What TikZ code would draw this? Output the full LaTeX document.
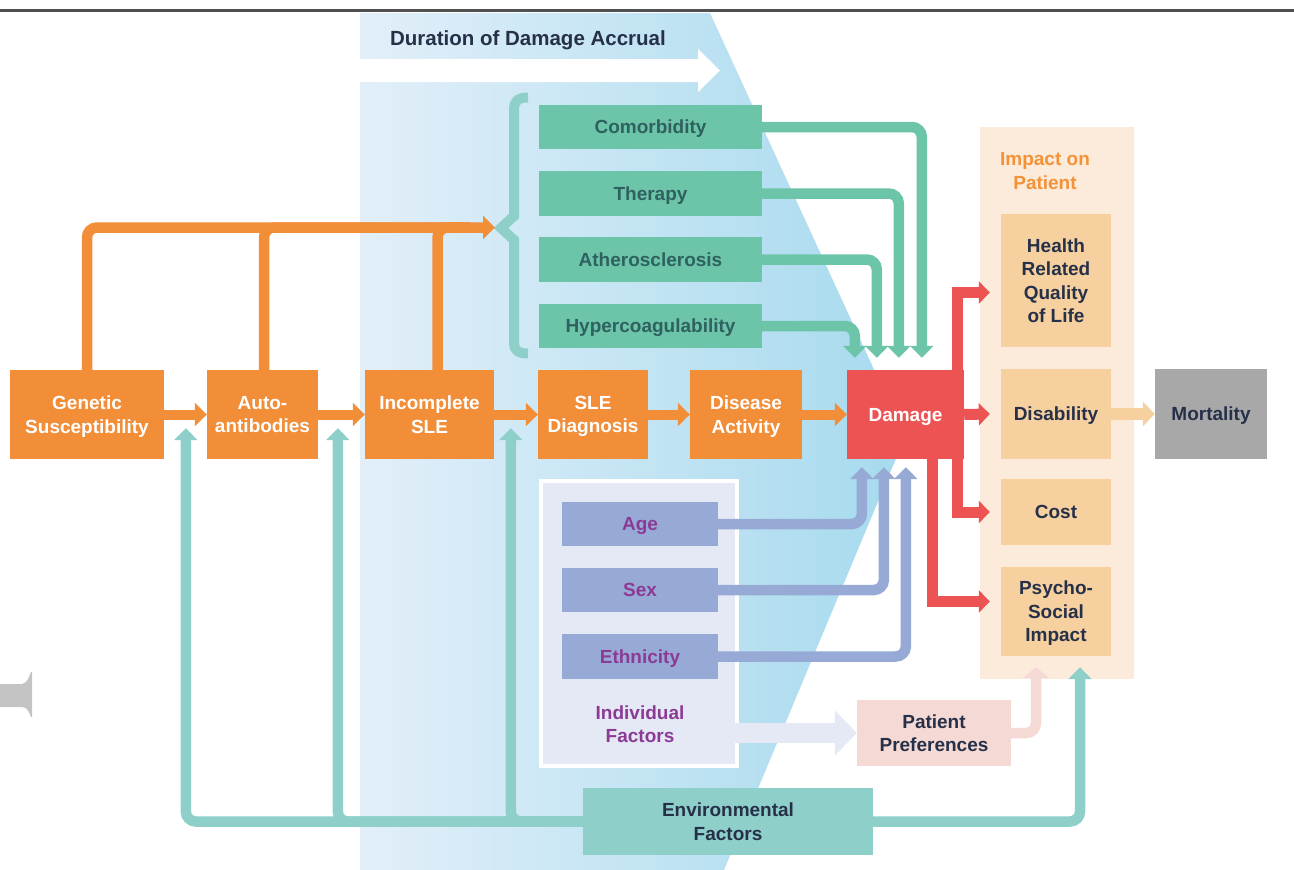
\documentclass[tikz,border=0pt]{standalone}
\usepackage{fontspec}
\setmainfont{Liberation Sans}
\usetikzlibrary{arrows.meta,calc}
\definecolor{cOr}{HTML}{F28D38}
\definecolor{cRed}{HTML}{EE5353}
\definecolor{cGr}{HTML}{6CC5A8}
\definecolor{cGrTxt}{HTML}{2E615F}
\definecolor{cTeal}{HTML}{8ECFC9}
\definecolor{cLav}{HTML}{97AAD6}
\definecolor{cPur}{HTML}{8B3B96}
\definecolor{cIndBg}{HTML}{E4E9F5}
\definecolor{cPink}{HTML}{F5D9D4}
\definecolor{cPeachBg}{HTML}{FCEADA}
\definecolor{cPeach}{HTML}{F6D09F}
\definecolor{cDark}{HTML}{263149}
\definecolor{cGray}{HTML}{A8A8A8}
\definecolor{cOrLbl}{HTML}{F39237}
\definecolor{bgL}{HTML}{E2EFF9}
\definecolor{bgR}{HTML}{A6DAEE}
\definecolor{cLine}{HTML}{505050}
\definecolor{cArt}{HTML}{C4C4C4}
\tikzset{
  box/.style={rectangle, inner sep=0pt, align=center, text depth=0pt, font=\bfseries\fontsize{19}{23.5}\selectfont},
  obox/.style={box, fill=cOr, text=white},
  gbox/.style={box, fill=cGr, text=cGrTxt},
  lbox/.style={box, fill=cLav, text=cPur},
  pbox/.style={box, fill=cPeach, text=cDark},
  conn/.style={line width=10.5pt, rounded corners=10pt},
  oarr/.style={conn, draw=cOr, -{Triangle[length=12pt,width=23pt]}},
  oline/.style={conn, draw=cOr},
  garr/.style={conn, draw=cGr, -{Triangle[length=12pt,width=23pt]}},
  larr/.style={conn, draw=cLav, -{Triangle[length=12pt,width=23pt]}},
  tarr/.style={conn, draw=cTeal, -{Triangle[length=12pt,width=23pt]}},
  rarr/.style={line width=11pt, draw=cRed, -{Triangle[length=11pt,width=22pt]}},
  parr/.style={conn, draw=cPink, -{Triangle[length=11pt,width=26pt]}},
}
\begin{document}
\begin{tikzpicture}[x=1pt,y=-1pt]
\useasboundingbox (0,0) rectangle (1294,870);
% background blue region
\shade[left color=bgL, right color=bgR] (360,13) -- (710,13) -- (905,437) -- (724,870) -- (360,870) -- cycle;
\fill[white] (360,59) -- (698,59) -- (698,49) -- (720,70.5) -- (698,92) -- (698,82) -- (360,82) -- cycle;
\draw[cLine, line width=3pt] (0,10) -- (1294,10);
% left artifact
\fill[cArt] (0,684) -- (22,684) .. controls (28,683) and (29,676) .. (31,672) -- (32,672) -- (32,717) -- (31,717) .. controls (29,713) and (28,707) .. (22,707) -- (0,707) -- cycle;
\node[font=\bfseries\fontsize{20.5}{24}\selectfont, text=cDark, text depth=0pt, inner sep=0pt] (title) at (528,38) {Duration of Damage Accrual};
% group backgrounds
\node[rectangle, fill=cPeachBg, minimum width=154pt, minimum height=552pt, inner sep=0pt] (impbg) at (1057,403) {};
\node[box, text=cOrLbl] (implbl) at (1045,171) {Impact on\\Patient};
\node[rectangle, fill=cIndBg, draw=white, line width=4pt, minimum width=196pt, minimum height=285pt, inner sep=0pt] (indbox) at (639,623.5) {};
% orange chain
\node[obox, minimum width=154pt, minimum height=89pt] (gen) at (87,414.5) {Genetic\\Susceptibility};
\node[obox, minimum width=111pt, minimum height=89pt] (auto) at (262.5,414.5) {Auto-\\antibodies};
\node[obox, minimum width=129pt, minimum height=89pt] (inc) at (429.5,414.5) {Incomplete\\SLE};
\node[obox, minimum width=110pt, minimum height=89pt] (sled) at (593,414.5) {SLE\\Diagnosis};
\node[obox, minimum width=112pt, minimum height=89pt] (dact) at (746,414.5) {Disease\\Activity};
\node[box, fill=cRed, text=white, minimum width=117pt, minimum height=89pt] (dmg) at (905.5,414.5) {Damage};
% green factors
\node[gbox, minimum width=223pt, minimum height=44pt] (com) at (650.5,127) {Comorbidity};
\node[gbox, minimum width=223pt, minimum height=45pt] (ther) at (650.5,193.5) {Therapy};
\node[gbox, minimum width=223pt, minimum height=45pt] (ath) at (650.5,259.5) {Atherosclerosis};
\node[gbox, minimum width=223pt, minimum height=44pt] (hyp) at (650.5,326) {Hypercoagulability};
% individual factors
\node[lbox, minimum width=156pt, minimum height=44pt] (age) at (640,524) {Age};
\node[lbox, minimum width=156pt, minimum height=44pt] (sex) at (640,590) {Sex};
\node[lbox, minimum width=156pt, minimum height=45pt] (eth) at (640,656.5) {Ethnicity};
\node[box, text=cPur] (indlbl) at (640,724) {Individual\\Factors};
% impact boxes
\node[pbox, minimum width=110pt, minimum height=133pt] (hrq) at (1056,280.5) {Health\\Related\\Quality\\of Life};
\node[pbox, minimum width=110pt, minimum height=90pt] (dis) at (1056,414) {Disability};
\node[pbox, minimum width=110pt, minimum height=66pt] (cost) at (1056,512) {Cost};
\node[pbox, minimum width=110pt, minimum height=89pt] (psy) at (1056,611.5) {Psycho-\\Social\\Impact};
\node[box, fill=cGray, text=cDark, minimum width=112pt, minimum height=90pt] (mort) at (1211,414) {Mortality};
\node[box, fill=cPink, text=cDark, minimum width=154pt, minimum height=66pt] (pp) at (934,733) {Patient\\Preferences};
\node[box, fill=cTeal, text=cDark, minimum width=290pt, minimum height=67pt] (env) at (728,821.5) {Environmental\\Factors};
% brace
\draw[cTeal, line width=10pt, line join=miter] (528,97.5) .. controls (518,97.5) and (514,101) .. (514,110) -- (514,216) -- (501,228) -- (514,240) -- (514,343) .. controls (514,350) and (518,353.5) .. (528,353.5);
% orange connectors
\coordinate (btip) at (495,227.5);
\coordinate (bjoin) at (470,227.5);
\draw[oarr] (gen.north) |- (btip);
\draw[oline] ($(auto.north)+(1.5,0)$) |- (bjoin);
\draw[oline] ($(inc.north)+(8,0)$) |- (bjoin);
\draw[oarr, line width=10pt] (gen.east) -- (auto.west);
\draw[oarr, line width=10pt] (auto.east) -- (inc.west);
\draw[oarr, line width=10pt] (inc.east) -- (sled.west);
\draw[oarr, line width=10pt] (sled.east) -- (dact.west);
\draw[oarr, line width=10pt] (dact.east) -- (dmg.west);
% green connectors
\draw[garr] (com.east) -| ($(dmg.north west)+(75,-12)$);
\draw[garr] (ther.east) -| ($(dmg.north west)+(52,-12)$);
\draw[garr] (ath.east) -| ($(dmg.north west)+(30,-12)$);
\draw[garr] (hyp.east) -| ($(dmg.north west)+(8,-12)$);
% lavender connectors
\draw[larr] (age.east) -| ($(dmg.south west)+(15,8)$);
\draw[larr] (sex.east) -| ($(dmg.south west)+(37,8)$);
\draw[larr] (eth.east) -| ($(dmg.south west)+(59,8)$);
\draw[cIndBg, line width=20pt, -{Triangle[length=22pt,width=44pt]}] ($(indbox.east |- pp.west)+(-5,0)$) -- (pp.west);
% red connectors
\draw[rarr] ($(dmg.north east)+(-7,0)$) |- ($(hrq.west)+(-11,12)$);
\draw[rarr] (dmg.east) -- ($(dis.west)+(-11,0)$);
\draw[rarr] ($(dmg.south east)+(-7,0)$) |- ($(cost.west)+(-11,0)$);
\draw[rarr] ($(dmg.south east)+(-32,0)$) |- ($(psy.west)+(-11,-10)$);
\draw[cPeach, line width=12pt, -{Triangle[length=12pt,width=24pt]}] (dis.east) -- (mort.west);
% patient preferences
\draw[parr] (pp.east) -| ($(psy.south)+(-20,11)$);
% environmental connectors
\draw[tarr] (env.west) -| ($(auto.south west)+(-21,-31)$);
\draw[tarr] (env.west) -| ($(inc.south west)+(-27,-31)$);
\draw[tarr] (env.west) -| ($(sled.south west)+(-27,-31)$);
\draw[tarr] (env.east) -| ($(psy.south)+(24,11)$);
\end{tikzpicture}
\end{document}
